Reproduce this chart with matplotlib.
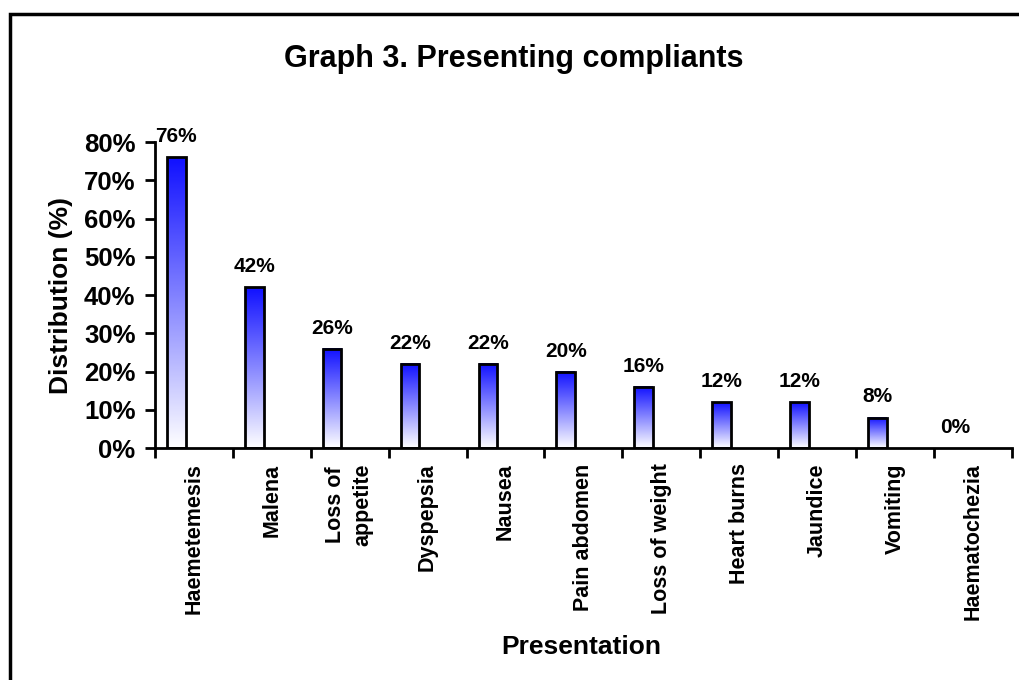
import matplotlib
matplotlib.use("Agg")
import matplotlib.pyplot as plt
from matplotlib.colors import LinearSegmentedColormap
from matplotlib.patches import Rectangle
import numpy as np

plt.rcParams['font.family'] = ['Liberation Sans', 'DejaVu Sans']
plt.rcParams['font.weight'] = 'bold'

complaints = ["Haemetemesis", "Malena", "Loss of\nappetite", "Dyspepsia", "Nausea",
              "Pain abdomen", "Loss of weight", "Heart burns", "Jaundice",
              "Vomiting", "Haematochezia"]
percent = [76, 42, 26, 22, 22, 20, 16, 12, 12, 8, 0]
yticks = [0, 10, 20, 30, 40, 50, 60, 70, 80]

fig = plt.figure(figsize=(10.19, 6.8), dpi=100)
ax = fig.add_axes([0.152, 0.341, 0.841, 0.450])

# white -> blue gradient used to fill each bar
blue_grad = LinearSegmentedColormap.from_list("wb", ["#ffffff", "#1010ff"])
grad = np.linspace(0, 1, 256).reshape(-1, 1)

x = np.arange(len(complaints))
bw = 0.24
shift = -0.225
for xi, v in zip(x, percent):
    x0 = xi + shift - bw / 2
    if v > 0:
        ax.imshow(grad, cmap=blue_grad, origin="lower", aspect="auto",
                  extent=[x0, x0 + bw, 0, v], zorder=2)
        ax.add_patch(Rectangle((x0, 0), bw, v, facecolor="none",
                               edgecolor="black", lw=2, zorder=3))
    ax.annotate(f"{v}%", (xi + shift, v), xytext=(0, 8), textcoords="offset points",
                ha="center", va="bottom", fontsize=15, fontweight="bold",
                annotation_clip=False)

ax.set_xlim(-0.5, len(complaints) - 0.5)
ax.set_ylim(0, 80)
ax.set_yticks(yticks)
ax.set_yticklabels([f"{t}%" for t in yticks], fontsize=18.5, fontweight="bold")
ax.set_xticks(x)
ax.set_xticklabels(complaints, rotation=90, fontsize=15.5, fontweight="bold",
                   va="top", ha="center", linespacing=1.4)
ax.set_xticks(np.arange(len(complaints) + 1) - 0.5, minor=True)
ax.tick_params(axis="x", which="major", length=0, pad=11)
ax.tick_params(axis="x", which="minor", length=7, width=2, direction="out")
ax.tick_params(axis="y", length=7, width=2, direction="out", pad=7)

for s in ["top", "right"]:
    ax.spines[s].set_visible(False)
for s in ["left", "bottom"]:
    ax.spines[s].set_linewidth(2)

ax.set_ylabel("Distribution (%)", fontsize=19, fontweight="bold", labelpad=8)
ax.set_xlabel("Presentation", fontsize=19, fontweight="bold", va="center")
ax.xaxis.set_label_coords(0.498, -0.65)
fig.text(0.504, 0.913, "Graph 3. Presenting compliants", ha="center", va="center",
         fontsize=22, fontweight="bold")

# outer frame around the chart
fig.patches.append(Rectangle((10, -20), 1040, 686, transform=None, fill=False,
                             edgecolor="black", lw=2.5))

fig.savefig("out.png", dpi=100, facecolor="white")
